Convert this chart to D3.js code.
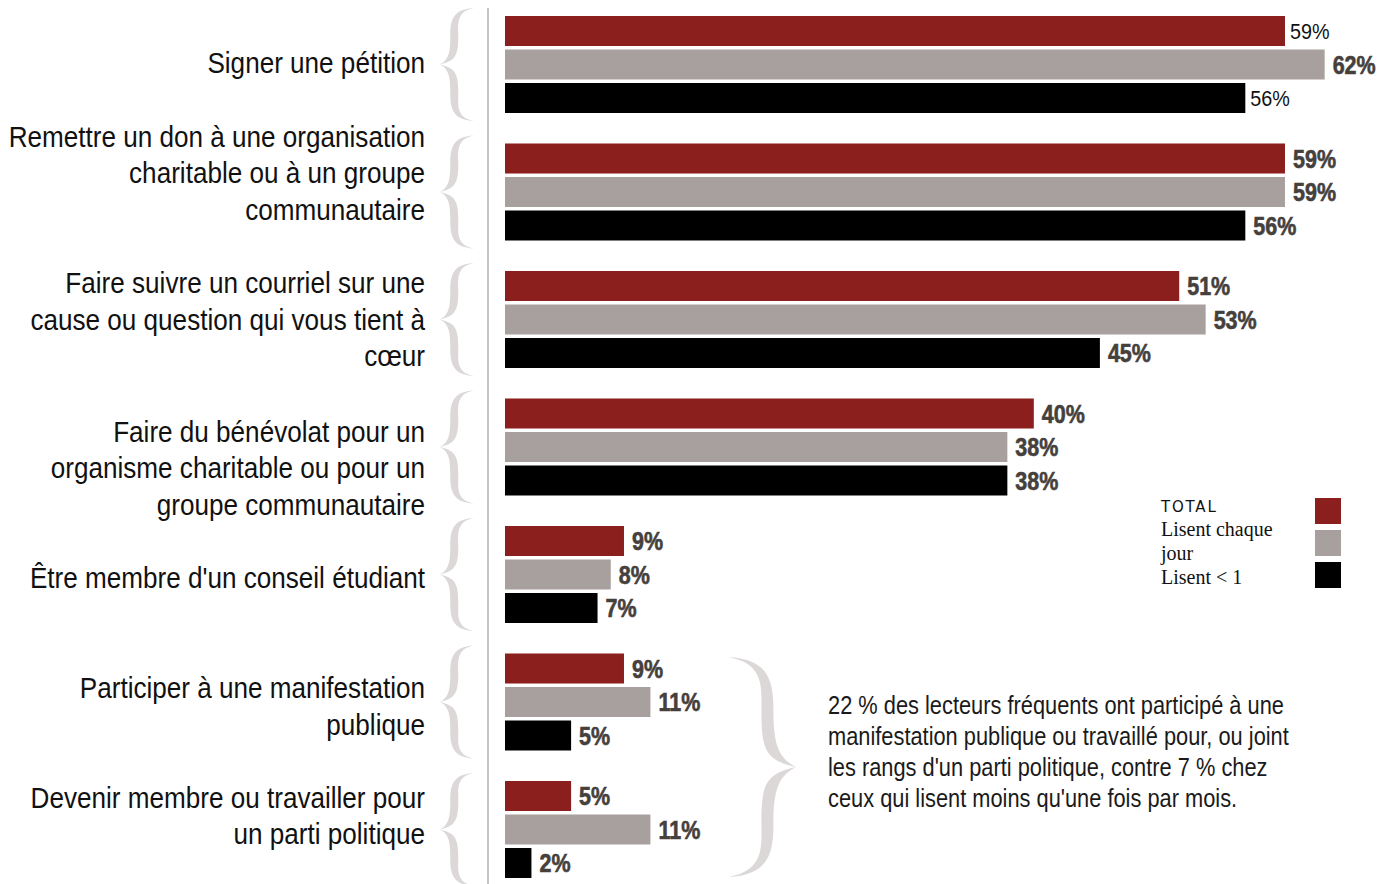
<!DOCTYPE html>
<html lang="fr">
<head>
<meta charset="utf-8">
<title>Engagement civique selon la fréquence de lecture</title>
<script src="https://cdn.jsdelivr.net/npm/d3@7"></script>
<style>
  html, body { margin: 0; padding: 0; background: #ffffff; }
  svg { display: block; }
  .cat { font-family: "Liberation Sans", Arial, sans-serif; font-size: 29px; fill: #111; }
  .val { font-family: "Liberation Sans", Arial, sans-serif; font-size: 25px; font-weight: bold; fill: #45403c; stroke: #45403c; stroke-width: 0.6px; }
  .val.plain { font-weight: normal; fill: #111; stroke: none; font-size: 22px; }
  .note { font-family: "Liberation Sans", Arial, sans-serif; font-size: 25px; fill: #1a1a1a; }
  .leg-head { font-family: "DejaVu Sans", sans-serif; font-size: 15px; letter-spacing: 1.8px; fill: #111; }
  .leg { font-family: "Liberation Serif", "Times New Roman", serif; font-size: 20px; fill: #111; }
</style>
</head>
<body>
<svg id="chart" width="1397" height="884"></svg>
<script>
// Activities (label lines)
const categories = [
  ["Signer une pétition"],
  ["Remettre un don à une organisation", "charitable ou à un groupe", "communautaire"],
  ["Faire suivre un courriel sur une", "cause ou question qui vous tient à", "cœur"],
  ["Faire du bénévolat pour un", "organisme charitable ou pour un", "groupe communautaire"],
  ["Être membre d'un conseil étudiant"],
  ["Participer à une manifestation", "publique"],
  ["Devenir membre ou travailler pour", "un parti politique"]
];

// Series
const seriesNames = ["TOTAL", "Lisent chaque jour", "Lisent < 1"];
const totalValues = [59, 59, 51, 40, 9, 9, 5];
const dailyValues = [62, 59, 53, 38, 8, 11, 11];
const rareValues  = [56, 56, 45, 38, 7, 5, 2];

const noteLines = [
  "22 % des lecteurs fréquents ont participé à une",
  "manifestation publique ou travaillé pour, ou joint",
  "les rangs d'un parti politique, contre 7 % chez",
  "ceux qui lisent moins qu'une fois par mois."
];

// ---- layout ----
const colors = ["#8b1f1d", "#a8a09e", "#000000"];
const braceColor = "#dcd8d8";
const series = [totalValues, dailyValues, rareValues];
// vertical nudge of each category label block relative to its bar group
const labelShift = [-2, -19, 0, 21, 3, 4, -14];
// value labels set in the lighter face
const plainLabels = new Set(["0-0", "0-2"]);
// horizontal squeeze giving the narrow typeface look
const narrowCat = 0.9, narrowVal = 0.86, narrowPlain = 0.9, narrowNote = 0.873;

const svg = d3.select("#chart");

const x = d3.scaleLinear().domain([0, 100]).range([505, 505 + 1322]);
const yGroup = d3.scaleBand().domain(d3.range(categories.length)).range([16, 16 + 127.5 * categories.length]).padding(0);
const ySeries = d3.scaleBand().domain(d3.range(series.length)).range([0, 97]).paddingInner(3.5 / 33.5).paddingOuter(0);

// curly brace as a filled tapered shape; dir = 1 is "{", -1 is "}"
function bracePath(x0, x1, y0, y1, t, dir) {
  const h = y1 - y0, w = x1 - x0, ym = (y0 + y1) / 2;
  const tipX = dir === 1 ? x1 : x0;
  const pointX = dir === 1 ? x0 : x1;
  const armX = dir === 1 ? x0 + w * 0.42 : x1 - w * 0.42;
  const o = -dir * t;   // outer edge offset (toward the point)
  const i = dir * t;    // inner edge offset
  const p = d3.path();
  p.moveTo(tipX, y0);
  p.bezierCurveTo(armX + o * 0.6, y0 + 0.01 * h, armX + o, y0 + 0.12 * h, armX + o, y0 + 0.25 * h);
  p.bezierCurveTo(armX + o, y0 + 0.40 * h, pointX + dir * w * 0.25, ym - 0.04 * h, pointX, ym);
  p.bezierCurveTo(pointX + dir * w * 0.25, ym + 0.04 * h, armX + o, y1 - 0.40 * h, armX + o, y1 - 0.25 * h);
  p.bezierCurveTo(armX + o, y1 - 0.12 * h, armX + o * 0.6, y1 - 0.01 * h, tipX, y1);
  p.bezierCurveTo(armX + i * 0.4, y1 - 0.03 * h, armX + i, y1 - 0.14 * h, armX + i, y1 - 0.25 * h);
  p.bezierCurveTo(armX + i, y1 - 0.42 * h, pointX + dir * w * 0.45, ym + 0.03 * h, pointX, ym);
  p.bezierCurveTo(pointX + dir * w * 0.45, ym - 0.03 * h, armX + i, y0 + 0.42 * h, armX + i, y0 + 0.25 * h);
  p.bezierCurveTo(armX + i, y0 + 0.14 * h, armX + i * 0.4, y0 + 0.03 * h, tipX, y0);
  p.closePath();
  return p.toString();
}

// axis rule
svg.append("line")
  .attr("x1", 488).attr("x2", 488)
  .attr("y1", 8).attr("y2", 884)
  .attr("stroke", "#c9c5c5").attr("stroke-width", 2);

// left braces, one per group
svg.append("g").selectAll("path")
  .data(categories)
  .join("path")
  .attr("d", (d, gi) => bracePath(440, 474, yGroup(gi) - 8, yGroup(gi) + 105, 4, 1))
  .attr("fill", braceColor);

// category labels
const catG = svg.append("g").attr("transform", `translate(425,0) scale(${narrowCat},1)`);
categories.forEach((lines, gi) => {
  const lh = 36.5;
  const cy = yGroup(gi) + 48.5 + labelShift[gi];
  const top = cy - (lines.length - 1) * lh / 2;
  catG.append("text")
    .attr("class", "cat")
    .attr("text-anchor", "end")
    .selectAll("tspan")
    .data(lines)
    .join("tspan")
    .attr("x", 0)
    .attr("y", (d, li) => top + li * lh)
    .attr("dy", "0.36em")
    .text(d => d);
});

// bars
const groups = svg.append("g").selectAll("g")
  .data(categories.map((c, gi) => series.map((s, si) => ({ gi, si, v: s[gi] }))))
  .join("g")
  .attr("transform", (d, gi) => `translate(0,${yGroup(gi)})`);

groups.selectAll("rect")
  .data(d => d)
  .join("rect")
  .attr("x", x(0))
  .attr("y", d => ySeries(d.si))
  .attr("width", d => x(d.v) - x(0))
  .attr("height", ySeries.bandwidth())
  .attr("fill", d => colors[d.si]);

groups.selectAll("text")
  .data(d => d)
  .join("text")
  .attr("class", d => plainLabels.has(`${d.gi}-${d.si}`) ? "val plain" : "val")
  .attr("transform", d => {
    const k = plainLabels.has(`${d.gi}-${d.si}`) ? narrowPlain : narrowVal;
    const dx = plainLabels.has(`${d.gi}-${d.si}`) ? 5 : 8;
    return `translate(${x(d.v) + dx},${ySeries(d.si) + ySeries.bandwidth() / 2}) scale(${k},1)`;
  })
  .attr("dy", "0.36em")
  .text(d => d.v + "%");

// legend
const leg = svg.append("g");
leg.append("text").attr("class", "leg-head").attr("x", 1161).attr("y", 512).text(seriesNames[0]);
const legLines = [["Lisent chaque", 536], ["jour", 560], ["Lisent < 1", 584]];
leg.selectAll("text.leg").data(legLines).join("text")
  .attr("class", "leg").attr("x", 1161).attr("y", d => d[1]).text(d => d[0]);
leg.selectAll("rect").data(colors).join("rect")
  .attr("x", 1315).attr("y", (d, i) => 498 + i * 32)
  .attr("width", 26).attr("height", 26)
  .attr("fill", d => d);

// closing brace and note
svg.append("path")
  .attr("d", bracePath(728, 796, 657, 877, 6, -1))
  .attr("fill", braceColor);

svg.append("g")
  .attr("transform", `translate(828,0) scale(${narrowNote},1)`)
  .append("text")
  .attr("class", "note")
  .selectAll("tspan")
  .data(noteLines)
  .join("tspan")
  .attr("x", 0)
  .attr("y", (d, i) => 705 + i * 31)
  .attr("dy", "0.36em")
  .text(d => d);
</script>
</body>
</html>
